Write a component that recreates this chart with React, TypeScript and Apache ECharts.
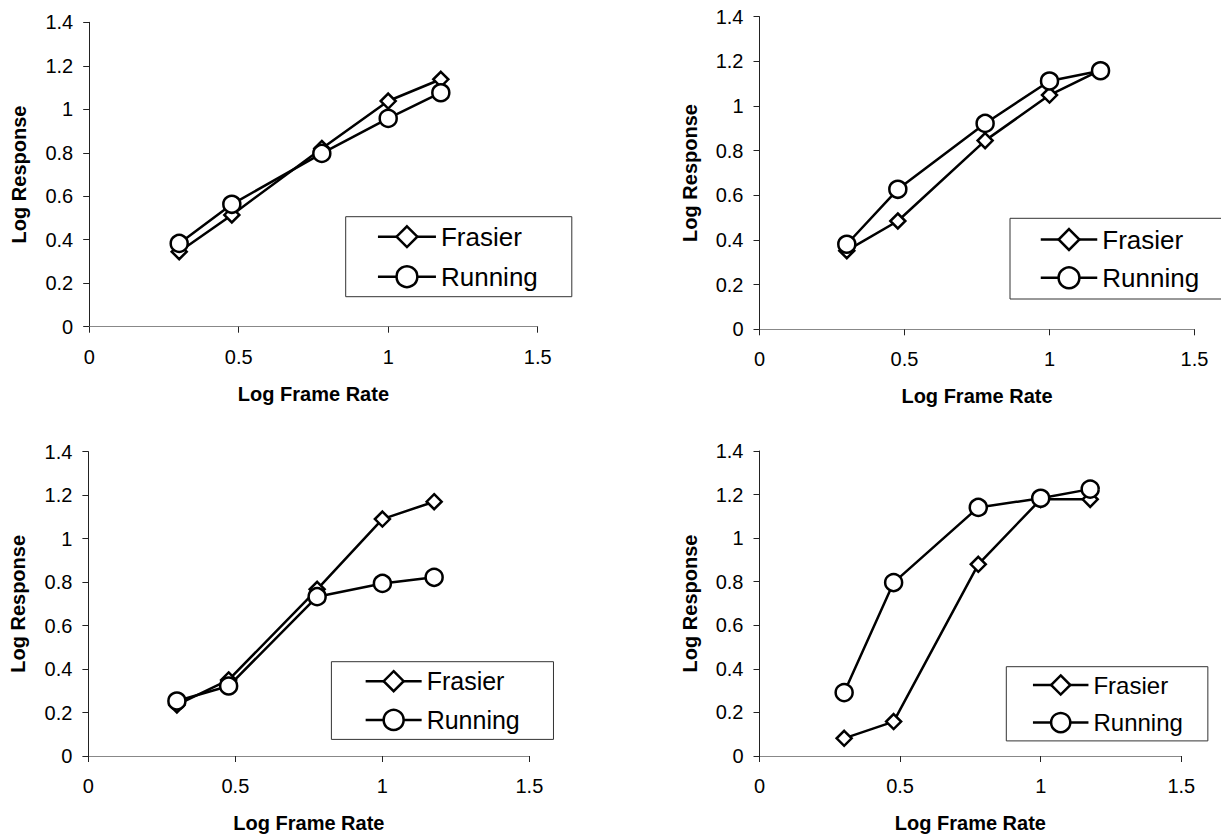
import React, { useEffect, useRef } from "react";
import * as echarts from "echarts";

// Log frame rate positions (log10 of 2, 3, 6, 10, 15)
const logFrameRate = [0.301, 0.477, 0.778, 1.0, 1.176];

const xTicks = { min: 0, max: 1.5, interval: 0.5 };
const yTicks = { min: 0, max: 1.4, interval: 0.2 };

const seriesNames = ["Frasier", "Running"];

const p1Frasier = [0.345, 0.514, 0.82, 1.038, 1.138];
const p1Running = [0.383, 0.563, 0.797, 0.958, 1.076];
const p2Frasier = [0.352, 0.485, 0.845, 1.049, 1.161];
const p2Running = [0.381, 0.627, 0.922, 1.112, 1.158];
const p3Frasier = [0.235, 0.35, 0.767, 1.09, 1.17];
const p3Running = [0.253, 0.322, 0.733, 0.794, 0.822];
const p4Frasier = [0.081, 0.158, 0.88, 1.178, 1.178];
const p4Running = [0.291, 0.796, 1.141, 1.183, 1.225];

const panels = [
  { frasier: p1Frasier, running: p1Running },
  { frasier: p2Frasier, running: p2Running },
  { frasier: p3Frasier, running: p3Running },
  { frasier: p4Frasier, running: p4Running },
];

const FONT = "'Liberation Sans', Arial, sans-serif";

const grids = [
  { left: 89.2, top: 22.3, width: 448.5, height: 304.4 },
  { left: 759.5, top: 16.7, width: 435, height: 312.6 },
  { left: 88.4, top: 451.7, width: 441, height: 304.3 },
  { left: 759.5, top: 451, width: 421.8, height: 305 },
];

const legends = [
  { left: 345.7, top: 216.7, font: 26, gap: 14, iw: 58, pad: [7, 34, 7, 31] },
  { left: 1010, top: 218.3, font: 26, gap: 12.3, iw: 56.5, pad: [8.2, 34, 8.2, 29.5] },
  { left: 331.4, top: 661.7, font: 25, gap: 13.7, iw: 56, pad: [7, 33.7, 7, 33] },
  { left: 1006.3, top: 666.7, font: 24, gap: 13.6, iw: 55.5, pad: [6.3, 25, 6.3, 25.4] },
];

export default function App() {
  const ref = useRef<HTMLDivElement>(null);
  useEffect(() => {
    if (!ref.current) return;
    const chart = echarts.init(ref.current, null, { renderer: "svg" });
    const xAxis: any[] = [];
    const yAxis: any[] = [];
    const series: any[] = [];
    const legend: any[] = [];
    grids.forEach((g, i) => {
      xAxis.push({
        type: "value",
        gridIndex: i,
        ...xTicks,
        name: "Log Frame Rate",
        nameLocation: "middle",
        nameGap: 57,
        nameTextStyle: { fontFamily: FONT, fontSize: 20, fontWeight: "bold", color: "#000" },
        axisLine: { show: true, onZero: false, lineStyle: { color: "#888", width: 1 } },
        axisTick: { show: true, inside: false, length: 6, lineStyle: { color: "#222" } },
        axisLabel: { fontFamily: FONT, fontSize: 20, color: "#000", margin: 20 },
        splitLine: { show: false },
      });
      yAxis.push({
        type: "value",
        gridIndex: i,
        ...yTicks,
        name: "Log Response",
        nameLocation: "middle",
        nameGap: 60,
        nameTextStyle: { fontFamily: FONT, fontSize: 20, fontWeight: "bold", color: "#000" },
        axisLine: { show: true, onZero: false, lineStyle: { color: "#222", width: 1 } },
        axisTick: { show: true, inside: false, length: 6, lineStyle: { color: "#222" } },
        axisLabel: { fontFamily: FONT, fontSize: 20, color: "#000", margin: 16 },
        splitLine: { show: false },
      });
      const p = panels[i];
      series.push({
        type: "line",
        name: seriesNames[0],
        xAxisIndex: i,
        yAxisIndex: i,
        data: logFrameRate.map((x, k) => [x, p.frasier[k]]),
        symbol: "diamond",
        symbolSize: 15,
        lineStyle: { color: "#000", width: 2.5 },
        itemStyle: { color: "#fff", borderColor: "#000", borderWidth: 2.5 },
        z: 2,
      });
      series.push({
        type: "line",
        name: seriesNames[1],
        xAxisIndex: i,
        yAxisIndex: i,
        data: logFrameRate.map((x, k) => [x, p.running[k]]),
        symbol: "circle",
        symbolSize: 17,
        lineStyle: { color: "#000", width: 2.5 },
        itemStyle: { color: "#fff", borderColor: "#000", borderWidth: 2.5 },
        z: 3,
      });
      const l = legends[i];
      legend.push({
        data: seriesNames,
        orient: "vertical",
        left: l.left,
        top: l.top,
        padding: l.pad,
        itemWidth: l.iw,
        itemHeight: l.font,
        itemGap: l.gap,
        borderColor: "#333",
        borderWidth: 1,
        backgroundColor: "#fff",
        selectedMode: false,
        itemStyle: { color: "#fff", borderColor: "#000", borderWidth: 2.5 },
        lineStyle: { color: "#000", width: 2.5 },
        textStyle: { fontFamily: FONT, fontSize: l.font, color: "#000" },
      });
    });
    chart.setOption({
      animation: false,
      backgroundColor: "#fff",
      grid: grids.map((g) => ({ ...g, containLabel: false })),
      xAxis,
      yAxis,
      series,
      legend,
    });
    return () => chart.dispose();
  }, []);
  return (
    <div
      ref={ref}
      style={{ position: "absolute", left: 0, top: 0, width: 1221, height: 835 }}
    />
  );
}
